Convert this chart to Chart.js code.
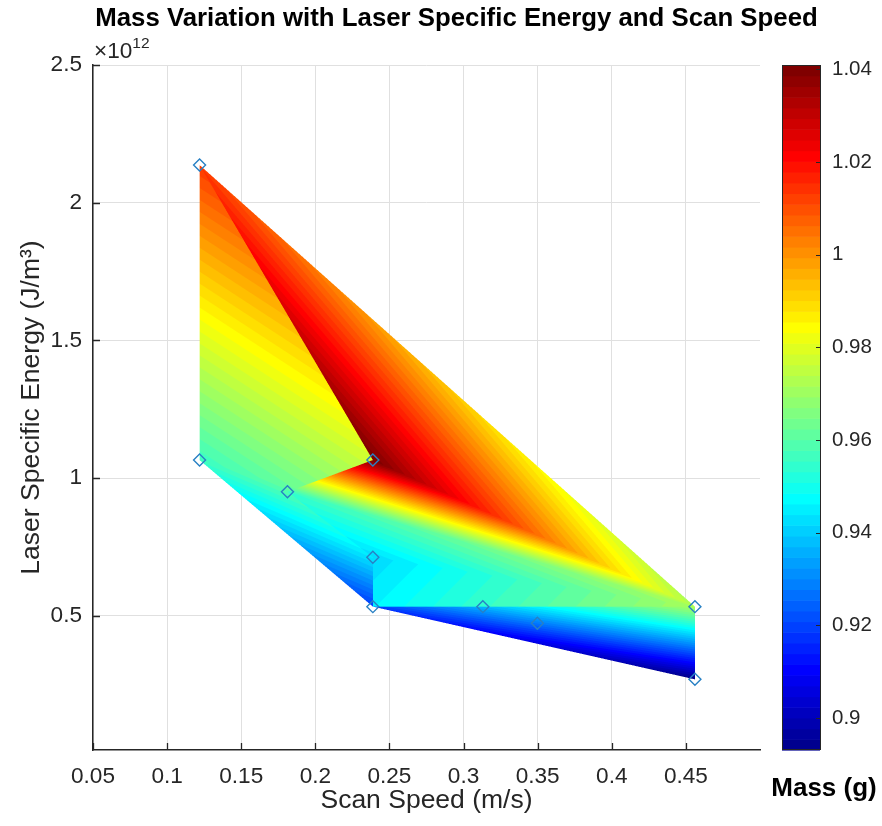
<!DOCTYPE html>
<html lang="en">
<head>
    <meta charset="UTF-8">
    <title>Mass Variation with Laser Specific Energy and Scan Speed</title>
    <script src="https://cdn.jsdelivr.net/npm/chart.js@4.4.1/dist/chart.umd.min.js"></script>
    <style>
        html, body { margin: 0; padding: 0; background: #fff; }
    </style>
</head>

<body>
    <canvas id="massChart" width="882" height="826"></canvas>
    <script>
        // measured runs: scan speed (m/s), laser specific energy (J/m^3), mass (g)
        const speed  = [0.1219, 0.1219, 0.1812, 0.2388, 0.2388, 0.2388, 0.3130, 0.3498, 0.4561, 0.4561];
        const energy = [2.137e12, 1.066e12, 0.951e12, 1.066e12, 0.713e12, 0.534e12, 0.534e12, 0.4735e12, 0.534e12, 0.270e12];
        const mass   = [1.013, 0.956, 0.955, 1.0409, 0.942, 0.919, 0.952, 0.920, 0.972, 0.8931];

        // surface facets (indices into the runs above), drawn in this order,
        // and the mass value at each facet corner
        const faces    = [[0, 1, 8], [1, 5, 8], [0, 3, 8], [2, 3, 8], [2, 4, 8], [4, 5, 8], [5, 9, 8]];
        const faceMass = [[1.013, 0.956, 0.990], [0.956, 0.919, 0.990], [1.013, 1.0409, 0.972],
                          [0.955, 1.0409, 0.972], [0.955, 0.942, 0.972], [0.942, 0.946, 0.972],
                          [0.919, 0.8931, 0.972]];

        // axes
        const xTicks = [0.05, 0.1, 0.15, 0.2, 0.25, 0.3, 0.35, 0.4, 0.45];
        const yTicks = [0.5e12, 1e12, 1.5e12, 2e12, 2.5e12];
        const cTicks = [0.9, 0.92, 0.94, 0.96, 0.98, 1.0, 1.02, 1.04];
        const cMin = Math.min(...mass);
        const cMax = Math.max(...mass);

        const axisColor = '#262626';
        const font = 'Liberation Sans, Arial, sans-serif';

        // MATLAB style jet colormap
        function jet(m) {
            const n = Math.ceil(m / 4);
            const u = [];
            for (let i = 1; i <= n; i++) u.push(i / n);
            for (let i = 0; i < n - 1; i++) u.push(1);
            for (let i = n; i >= 1; i--) u.push(i / n);
            const g0 = Math.ceil(n / 2) - (m % 4 === 1 ? 1 : 0);
            const J = [];
            for (let i = 0; i < m; i++) J.push([0, 0, 0]);
            const rs = [], gs = [], bs = [];
            for (let k = 1; k <= u.length; k++) {
                const g = g0 + k;
                if (g + n <= m) rs.push(g + n);
                if (g <= m) gs.push(g);
                if (g - n >= 1) bs.push(g - n);
            }
            rs.forEach((r, i) => J[r - 1][0] = u[i]);
            gs.forEach((g, i) => J[g - 1][1] = u[i]);
            bs.forEach((b, i) => J[b - 1][2] = u[u.length - bs.length + i]);
            return J.map(c => c.map(v => Math.round(v * 255)));
        }
        const cmap = jet(64);

        function colorFor(v) {
            let idx = Math.floor((v - cMin) / (cMax - cMin) * cmap.length);
            idx = Math.max(0, Math.min(cmap.length - 1, idx));
            return cmap[idx];
        }

        function fmt(v) {
            return Number(v.toFixed(2)).toString();
        }

        // interpolated surface, drawn through the x / y scales
        const surfacePlugin = {
            id: 'surface',
            beforeDatasetsDraw(chart) {
                const { ctx, chartArea: area, scales: { x, y } } = chart;
                const tris = faces.map((f, k) => {
                    const px = f.map(i => x.getPixelForValue(speed[i]));
                    const py = f.map(i => y.getPixelForValue(energy[i]));
                    const det = (py[1] - py[2]) * (px[0] - px[2]) + (px[2] - px[1]) * (py[0] - py[2]);
                    return {
                        px, py, inv: 1 / det,
                        a: py[1] - py[2], b: px[2] - px[1], c: py[2] - py[0], d: px[0] - px[2],
                        m: faceMass[k]
                    };
                });
                let x0 = Infinity, x1 = -Infinity, y0 = Infinity, y1 = -Infinity;
                tris.forEach(t => {
                    x0 = Math.min(x0, ...t.px); x1 = Math.max(x1, ...t.px);
                    y0 = Math.min(y0, ...t.py); y1 = Math.max(y1, ...t.py);
                });
                x0 = Math.floor(x0) - 1; y0 = Math.floor(y0) - 1;
                const w = Math.ceil(x1) - x0 + 2, h = Math.ceil(y1) - y0 + 2;
                const img = ctx.createImageData(w, h);
                const sub = [1 / 6, 3 / 6, 5 / 6];

                function valueAt(sx, sy) {
                    for (let k = tris.length - 1; k >= 0; k--) {
                        const t = tris[k];
                        const dx = sx - t.px[2], dy = sy - t.py[2];
                        const l0 = (t.a * dx + t.b * dy) * t.inv;
                        if (l0 < -1e-9) continue;
                        const l1 = (t.c * dx + t.d * dy) * t.inv;
                        if (l1 < -1e-9) continue;
                        const l2 = 1 - l0 - l1;
                        if (l2 < -1e-9) continue;
                        return l0 * t.m[0] + l1 * t.m[1] + l2 * t.m[2];
                    }
                    return null;
                }

                for (let j = 0; j < h; j++) {
                    for (let i = 0; i < w; i++) {
                        let r = 0, g = 0, b = 0, hits = 0;
                        for (const sy of sub) {
                            for (const sx of sub) {
                                const v = valueAt(x0 + i + sx, y0 + j + sy);
                                if (v === null) continue;
                                const c = colorFor(v);
                                r += c[0]; g += c[1]; b += c[2]; hits++;
                            }
                        }
                        if (!hits) continue;
                        const o = (j * w + i) * 4;
                        img.data[o] = r / hits;
                        img.data[o + 1] = g / hits;
                        img.data[o + 2] = b / hits;
                        img.data[o + 3] = Math.round(hits / 9 * 255);
                    }
                }
                const off = document.createElement('canvas');
                off.width = w; off.height = h;
                off.getContext('2d').putImageData(img, 0, 0);
                ctx.save();
                ctx.beginPath();
                ctx.rect(area.left, area.top, area.right - area.left, area.bottom - area.top);
                ctx.clip();
                ctx.drawImage(off, x0, y0);
                ctx.restore();
            }
        };

        // colorbar, inward tick marks and the free texts
        const decorPlugin = {
            id: 'decor',
            afterDraw(chart) {
                const { ctx, chartArea: area, scales: { x, y, c } } = chart;
                const barL = 782, barW = 38;

                // colorbar bands from the colour scale
                for (let i = 0; i < cmap.length; i++) {
                    const v0 = cMin + (cMax - cMin) * i / cmap.length;
                    const v1 = cMin + (cMax - cMin) * (i + 1) / cmap.length;
                    const p0 = c.getPixelForValue(v0), p1 = c.getPixelForValue(v1);
                    ctx.fillStyle = 'rgb(' + cmap[i].join(',') + ')';
                    ctx.fillRect(barL, p1, barW, p0 - p1 + 0.6);
                }
                ctx.strokeStyle = axisColor;
                ctx.lineWidth = 1;
                const top = c.getPixelForValue(cMax), bot = c.getPixelForValue(cMin);
                ctx.strokeRect(barL + 0.5, Math.round(top) + 0.5, barW, Math.round(bot - top) - 1);
                ctx.beginPath();
                cTicks.forEach(v => {
                    const p = Math.round(c.getPixelForValue(v)) + 0.5;
                    ctx.moveTo(barL + barW, p);
                    ctx.lineTo(barL + barW - 4, p);
                });
                ctx.stroke();

                // tick marks pointing into the axes
                ctx.lineWidth = 1.3;
                ctx.beginPath();
                xTicks.forEach(v => {
                    const p = Math.round(x.getPixelForValue(v)) + 0.5;
                    ctx.moveTo(p, area.bottom);
                    ctx.lineTo(p, area.bottom - 7);
                });
                yTicks.forEach(v => {
                    const p = Math.round(y.getPixelForValue(v)) + 0.5;
                    ctx.moveTo(area.left, p);
                    ctx.lineTo(area.left + 7, p);
                });
                ctx.stroke();

                ctx.fillStyle = '#000';
                ctx.textBaseline = 'alphabetic';
                ctx.textAlign = 'center';
                ctx.font = 'bold 25.8px ' + font;
                ctx.fillText('Mass Variation with Laser Specific Energy and Scan Speed', 456.5, 26);
                ctx.font = 'bold 26px ' + font;
                ctx.fillText('Mass (g)', 824, 796);

                ctx.fillStyle = axisColor;
                ctx.textAlign = 'left';
                ctx.font = '22.6px ' + font;
                const base = '\u00d710';
                ctx.fillText(base, 94, 58);
                const bw = ctx.measureText(base).width;
                ctx.font = '15.5px ' + font;
                ctx.fillText('12', 94 + bw, 48);
            }
        };

        const ctx = document.getElementById('massChart').getContext('2d');
        const massChart = new Chart(ctx, {
            type: 'scatter',
            data: {
                datasets: [{
                    label: 'Runs',
                    data: speed.map((s, i) => ({ x: s, y: energy[i] })),
                    pointStyle: 'rectRot',
                    pointRadius: 6,
                    pointHoverRadius: 6,
                    pointBorderWidth: 1.4,
                    borderColor: 'rgb(40, 128, 196)',
                    backgroundColor: 'rgba(0, 0, 0, 0)'
                }]
            },
            options: {
                responsive: false,
                animation: false,
                layout: { padding: { top: 65, left: 0, right: 0, bottom: 0 } },
                plugins: {
                    legend: { display: false },
                    tooltip: { enabled: false },
                    title: { display: false }
                },
                scales: {
                    x: {
                        type: 'linear',
                        min: 0.05,
                        max: 0.5,
                        afterBuildTicks: s => { s.ticks = xTicks.map(v => ({ value: v })); },
                        afterFit: s => { s.height = 76; },
                        grid: { color: '#e0e0e0', lineWidth: 1, drawTicks: false },
                        border: { display: true, color: axisColor, width: 1.5 },
                        ticks: {
                            padding: 13,
                            color: axisColor,
                            font: { family: font, size: 22.6 },
                            callback: v => fmt(v)
                        },
                        title: {
                            display: true,
                            text: 'Scan Speed (m/s)',
                            color: axisColor,
                            font: { family: font, size: 26.5 },
                            padding: { top: 0, bottom: 9 }
                        }
                    },
                    y: {
                        type: 'linear',
                        min: 0.0136e12,
                        max: 2.5e12,
                        afterBuildTicks: s => { s.ticks = yTicks.map(v => ({ value: v })); },
                        afterFit: s => { s.width = 93; },
                        grid: { color: '#e0e0e0', lineWidth: 1, drawTicks: false },
                        border: { display: true, color: axisColor, width: 1.5 },
                        ticks: {
                            padding: 11,
                            color: axisColor,
                            font: { family: font, size: 22.6 },
                            callback: v => fmt(v / 1e12)
                        },
                        title: {
                            display: true,
                            text: 'Laser Specific Energy (J/m\u00b3)',
                            color: axisColor,
                            font: { family: font, size: 26.5 },
                            padding: { top: 16, bottom: 0 }
                        }
                    },
                    c: {
                        type: 'linear',
                        position: 'right',
                        min: cMin,
                        max: cMax,
                        afterBuildTicks: s => { s.ticks = cTicks.map(v => ({ value: v })); },
                        afterFit: s => { s.width = 122; },
                        // invisible tick marks push the labels past the colorbar
                        grid: {
                            display: true,
                            drawOnChartArea: false,
                            drawTicks: true,
                            tickLength: 72,
                            tickColor: 'rgba(0, 0, 0, 0)'
                        },
                        border: { display: false },
                        ticks: {
                            padding: 0,
                            color: axisColor,
                            font: { family: font, size: 20.5 },
                            callback: v => fmt(v)
                        }
                    }
                }
            },
            plugins: [surfacePlugin, decorPlugin]
        });
    </script>
</body>

</html>
